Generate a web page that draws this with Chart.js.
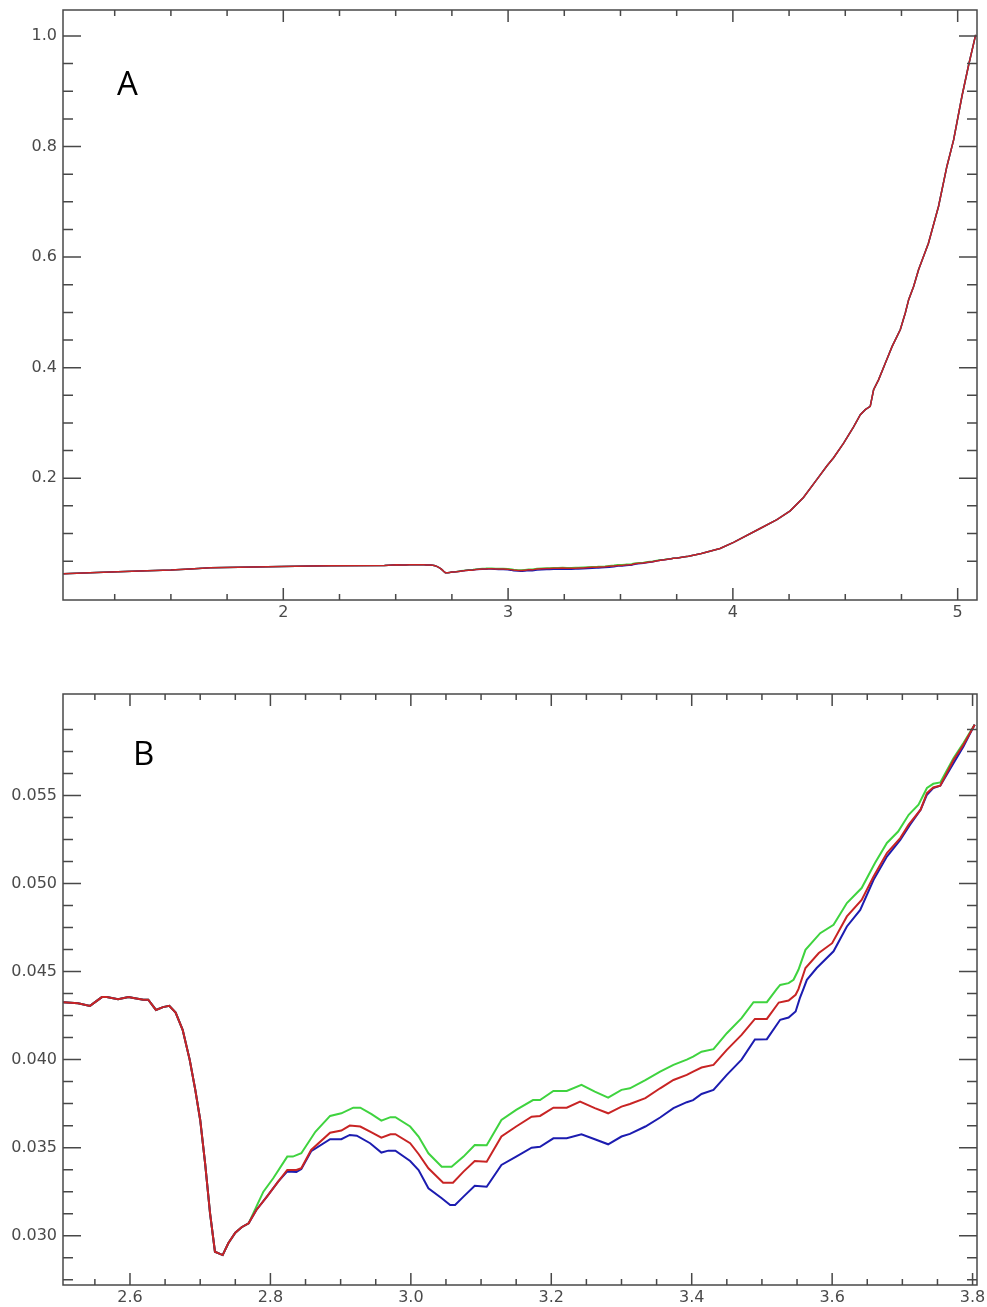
<!DOCTYPE html>
<html>
<head>
<meta charset="utf-8">
<script src="https://cdn.jsdelivr.net/npm/chart.js@4.4.1/dist/chart.umd.min.js"></script>
<style>
  html, body { margin: 0; padding: 0; background: #fff; }
  #wrap { position: relative; width: 987px; height: 1307px; overflow: hidden; }
  canvas { position: absolute; left: 0; }
  #chartA { top: 0; }
  #chartB { top: 654px; }
</style>
</head>
<body>
<div id="wrap">
  <canvas id="chartA" width="987" height="640"></canvas>
  <canvas id="chartB" width="987" height="653"></canvas>
</div>
<script>
// ============================================
// Data
// ============================================

// Panel A only: low-energy tail and the steep rise
const aLowX = [1.021, 1.20, 1.36, 1.50, 1.585, 1.675, 2.12, 2.21, 2.45];
const aLowY = [0.027, 0.030, 0.032, 0.034, 0.036, 0.038, 0.041, 0.0415, 0.042];

const aHighX = [3.86, 3.943, 4.003, 4.121, 4.196, 4.255, 4.314, 4.374, 4.418, 4.448,
    4.492, 4.537, 4.567, 4.589, 4.611, 4.626, 4.648, 4.678, 4.708, 4.745,
    4.767, 4.782, 4.804, 4.826, 4.870, 4.915, 4.952, 4.982, 5.019, 5.049, 5.080];
const aHighY = [0.064, 0.073, 0.084, 0.109, 0.125, 0.141, 0.165, 0.198, 0.222, 0.237,
    0.263, 0.293, 0.315, 0.324, 0.330, 0.360, 0.378, 0.408, 0.438, 0.469,
    0.499, 0.523, 0.547, 0.577, 0.625, 0.692, 0.764, 0.812, 0.891, 0.948, 1.002];

// Shared part of all three curves (before they split)
const commonX = [2.505, 2.526, 2.543, 2.560, 2.567, 2.583, 2.598, 2.605, 2.619, 2.626,
    2.637, 2.647, 2.656, 2.665, 2.675, 2.685, 2.693, 2.700, 2.707, 2.714,
    2.721, 2.732, 2.740, 2.750, 2.759, 2.769];
const commonY = [0.04326, 0.0432, 0.04305, 0.04355, 0.04355, 0.04343, 0.04355, 0.0435, 0.0434, 0.0434,
    0.04282, 0.04298, 0.04305, 0.04267, 0.04169, 0.0400, 0.03828, 0.03657, 0.03411, 0.03128,
    0.02909, 0.0289, 0.02957, 0.03017, 0.03048, 0.0307];

const greenX = [2.780, 2.790, 2.804, 2.824, 2.832, 2.844, 2.864, 2.885, 2.901, 2.918,
    2.928, 2.944, 2.958, 2.971, 2.978, 2.999, 3.011, 3.025, 3.044, 3.058,
    3.075, 3.091, 3.108, 3.129, 3.150, 3.174, 3.184, 3.203, 3.222, 3.243,
    3.262, 3.281, 3.300, 3.312, 3.334, 3.355, 3.374, 3.393, 3.402, 3.414,
    3.431, 3.450, 3.471, 3.488, 3.507, 3.521, 3.526, 3.538, 3.545, 3.552,
    3.562, 3.583, 3.602, 3.621, 3.642, 3.661, 3.678, 3.694, 3.709, 3.723,
    3.735, 3.744, 3.754, 3.773, 3.787, 3.803];
const greenY = [0.03165, 0.0325, 0.03326, 0.03449, 0.03449, 0.03468, 0.0359, 0.0368, 0.03695, 0.03727,
    0.03727, 0.0369, 0.03653, 0.03673, 0.03673, 0.0362, 0.03563, 0.03468, 0.03392, 0.03392,
    0.03449, 0.03515, 0.03514, 0.03657, 0.03714, 0.0377, 0.0377, 0.03822, 0.03822, 0.03856,
    0.03818, 0.03784, 0.03828, 0.03837, 0.03884, 0.03932, 0.0397, 0.0400, 0.04017, 0.04045,
    0.04059, 0.0415, 0.04235, 0.04326, 0.04326, 0.0440, 0.04424, 0.04434, 0.04453, 0.0451,
    0.04623, 0.04718, 0.04765, 0.04889, 0.04974, 0.05116, 0.0523, 0.05295, 0.0539, 0.05447,
    0.05542, 0.05566, 0.05574, 0.05712, 0.05798, 0.05902];

const redX = [2.780, 2.795, 2.811, 2.824, 2.837, 2.844, 2.858, 2.885, 2.901, 2.913,
    2.928, 2.944, 2.958, 2.971, 2.978, 2.999, 3.011, 3.025, 3.046, 3.060,
    3.075, 3.091, 3.108, 3.129, 3.150, 3.172, 3.184, 3.203, 3.222, 3.241,
    3.262, 3.281, 3.300, 3.312, 3.334, 3.355, 3.374, 3.393, 3.402, 3.414,
    3.431, 3.450, 3.471, 3.490, 3.507, 3.524, 3.538, 3.548, 3.552, 3.562,
    3.581, 3.600, 3.621, 3.642, 3.659, 3.678, 3.697, 3.709, 3.726, 3.735,
    3.744, 3.754, 3.773, 3.787, 3.803];
const redY = [0.03146, 0.03222, 0.03307, 0.03373, 0.03373, 0.03383, 0.03487, 0.03585, 0.03597, 0.03625,
    0.0362, 0.03587, 0.03557, 0.03576, 0.03576, 0.03525, 0.03464, 0.03383, 0.03301, 0.03301,
    0.03364, 0.03424, 0.0342, 0.03563, 0.0362, 0.03676, 0.0368, 0.03727, 0.03727, 0.03761,
    0.03724, 0.03695, 0.03733, 0.03748, 0.03781, 0.03837, 0.03884, 0.03913, 0.03932, 0.03955,
    0.0397, 0.04055, 0.0414, 0.04231, 0.04231, 0.04324, 0.04335, 0.04368, 0.0440, 0.0452,
    0.04605, 0.04661, 0.04813, 0.04907, 0.0504, 0.05173, 0.05258, 0.05334, 0.05419, 0.05514,
    0.05545, 0.05555, 0.05703, 0.05788, 0.05902];

const blueX = [2.780, 2.795, 2.811, 2.824, 2.837, 2.844, 2.858, 2.885, 2.901, 2.913,
    2.923, 2.942, 2.958, 2.968, 2.978, 2.999, 3.011, 3.025, 3.044, 3.056,
    3.063, 3.075, 3.091, 3.108, 3.129, 3.150, 3.172, 3.184, 3.203, 3.222,
    3.243, 3.262, 3.281, 3.300, 3.312, 3.334, 3.355, 3.374, 3.393, 3.402,
    3.414, 3.431, 3.450, 3.471, 3.490, 3.507, 3.526, 3.538, 3.548, 3.554,
    3.559, 3.564, 3.578, 3.602, 3.621, 3.640, 3.659, 3.678, 3.697, 3.711,
    3.726, 3.735, 3.744, 3.754, 3.773, 3.787, 3.803];
const blueY = [0.03146, 0.03222, 0.03307, 0.03365, 0.03362, 0.03378, 0.0348, 0.03548, 0.03548, 0.03572,
    0.03568, 0.03525, 0.03472, 0.03483, 0.03483, 0.03424, 0.03373, 0.03269, 0.03213, 0.03174,
    0.03174, 0.03222, 0.03284, 0.03278, 0.03402, 0.03449, 0.0350, 0.03505, 0.03553, 0.03553,
    0.03576, 0.03548, 0.03519, 0.03563, 0.03578, 0.0362, 0.03671, 0.03724, 0.03758, 0.0377,
    0.03805, 0.03828, 0.03913, 0.0400, 0.04114, 0.04116, 0.04226, 0.04239, 0.04273, 0.04349,
    0.0440, 0.04453, 0.0452, 0.04615, 0.04756, 0.0485, 0.05021, 0.05153, 0.05248, 0.05334,
    0.05419, 0.05504, 0.05542, 0.05555, 0.05684, 0.05778, 0.05902];

// Colours
const GREEN = '#3fd33f';
const RED = '#c82424';
const BLUE = '#1c1cb0';
const AXIS = '#484848';
const TICK_FONT = '"DejaVu Sans", Verdana, sans-serif';

// ============================================
// Helpers
// ============================================

function toPoints(xs, ys) {
    return xs.map((x, i) => ({ x: x, y: ys[i] }));
}

function series(color, xs, ys, width, order) {
    return {
        data: toPoints(xs, ys),
        borderColor: color,
        borderWidth: width,
        showLine: true,
        pointRadius: 0,
        tension: 0,
        order: order
    };
}

// Frame, inward ticks on all four sides, and the panel letter
const frameTicks = {
    id: 'frameTicks',
    afterDraw(chart, args, o) {
        const { ctx, chartArea: a } = chart;
        const xs = chart.scales.x, ys = chart.scales.y;
        ctx.save();
        ctx.strokeStyle = AXIS;
        ctx.lineWidth = 1.5;
        ctx.strokeRect(a.left, a.top, a.right - a.left, a.bottom - a.top);

        const each = (min, max, minor, major, skip, fn) => {
            for (let i = Math.ceil(min / minor - 1e-6); i * minor <= max + 1e-9; i++) {
                const v = i * minor;
                if (skip && skip(v)) continue;
                const isMajor = Math.abs(v / major - Math.round(v / major)) < 1e-6;
                fn(v, isMajor);
            }
        };

        ctx.beginPath();
        each(xs.min, xs.max, o.xMinor, o.xMajor, null, (v, big) => {
            const px = xs.getPixelForValue(v);
            const len = big ? o.xMajorLen : o.xMinorLen;
            ctx.moveTo(px, a.bottom); ctx.lineTo(px, a.bottom - len);
            ctx.moveTo(px, a.top); ctx.lineTo(px, a.top + len);
        });
        each(ys.min, ys.max, o.yMinor, o.yMajor, o.ySkip, (v, big) => {
            const py = ys.getPixelForValue(v);
            const len = big ? o.yMajorLen : o.yMinorLen;
            ctx.moveTo(a.left, py); ctx.lineTo(a.left + len, py);
            ctx.moveTo(a.right, py); ctx.lineTo(a.right - len, py);
        });
        ctx.stroke();

        ctx.fillStyle = '#000';
        ctx.font = '33px "Open Sans", "Noto Sans", sans-serif';
        ctx.textBaseline = 'alphabetic';
        ctx.fillText(o.letter, a.left + o.letterDx, a.top + o.letterDy);
        ctx.restore();
    }
};

function makePanel(id, datasets, p) {
    const ctx = document.getElementById(id).getContext('2d');
    const skipY = p.ticks.ySkip || (() => false);
    return new Chart(ctx, {
        type: 'scatter',
        data: { datasets: datasets },
        plugins: [frameTicks],
        options: {
            responsive: false,
            animation: false,
            devicePixelRatio: 1,
            layout: { padding: { top: p.padTop, right: 10, left: 0, bottom: 0 } },
            plugins: {
                legend: { display: false },
                tooltip: { enabled: false },
                frameTicks: p.ticks
            },
            scales: {
                x: {
                    type: 'linear',
                    min: p.xMin,
                    max: p.xMax,
                    grid: { display: false, drawTicks: false },
                    border: { display: false },
                    afterFit: (s) => {
                        s.height = p.xHeight;
                        s.paddingLeft = 0;
                        s.paddingRight = 0;
                    },
                    ticks: {
                        stepSize: p.xStep,
                        includeBounds: false,
                        autoSkip: false,
                        maxRotation: 0,
                        padding: 3,
                        color: '#4a4a4a',
                        font: { family: TICK_FONT, size: 16 },
                        callback: (v) => v.toFixed(p.xDec)
                    }
                },
                y: {
                    type: 'linear',
                    min: p.yMin,
                    max: p.yMax,
                    grid: { display: false, drawTicks: false },
                    border: { display: false },
                    afterFit: (s) => {
                        s.width = 63;
                        s.paddingTop = 0;
                        s.paddingBottom = 0;
                    },
                    ticks: {
                        stepSize: p.yStep,
                        includeBounds: false,
                        autoSkip: false,
                        padding: 6,
                        color: '#4a4a4a',
                        font: { family: TICK_FONT, size: 16 },
                        callback: (v) => (skipY(v) ? '' : v.toFixed(p.yDec))
                    }
                }
            }
        }
    });
}

// ============================================
// Panel A: full range
// ============================================

const panelA = makePanel('chartA', [
    series(RED, aLowX.concat(commonX, redX, aHighX), aLowY.concat(commonY, redY, aHighY), 1.5, 1),
    series(BLUE, aLowX.concat(commonX, blueX, aHighX), aLowY.concat(commonY, blueY, aHighY), 1.5, 2),
    series(GREEN, aLowX.concat(commonX, greenX, aHighX), aLowY.concat(commonY, greenY, aHighY), 1.5, 3)
], {
    padTop: 10, xHeight: 40,
    xMin: 1.02, xMax: 5.086, xStep: 1, xDec: 0,
    yMin: -0.0203, yMax: 1.047, yStep: 0.2, yDec: 1,
    ticks: {
        xMinor: 0.25, xMajor: 1, xMinorLen: 6, xMajorLen: 12,
        yMinor: 0.05, yMajor: 0.2, yMinorLen: 10, yMajorLen: 18,
        ySkip: (v) => Math.abs(v) < 1e-9,
        letter: 'A', letterDx: 54, letterDy: 85
    }
});

// ============================================
// Panel B: zoom on the dip
// ============================================

const panelB = makePanel('chartB', [
    series(RED, commonX.concat(redX), commonY.concat(redY), 2, 1),
    series(BLUE, commonX.concat(blueX), commonY.concat(blueY), 2, 2),
    series(GREEN, commonX.concat(greenX), commonY.concat(greenY), 2, 3)
], {
    padTop: 40, xHeight: 22,
    xMin: 2.5046, xMax: 3.8063, xStep: 0.2, xDec: 1,
    yMin: 0.0272, yMax: 0.06076, yStep: 0.005, yDec: 3,
    ticks: {
        xMinor: 0.05, xMajor: 0.2, xMinorLen: 6, xMajorLen: 12,
        yMinor: 0.00125, yMajor: 0.005, yMinorLen: 10, yMajorLen: 18,
        ySkip: (v) => v > 0.0599,
        letter: 'B', letterDx: 70, letterDy: 71
    }
});
</script>
</body>
</html>
